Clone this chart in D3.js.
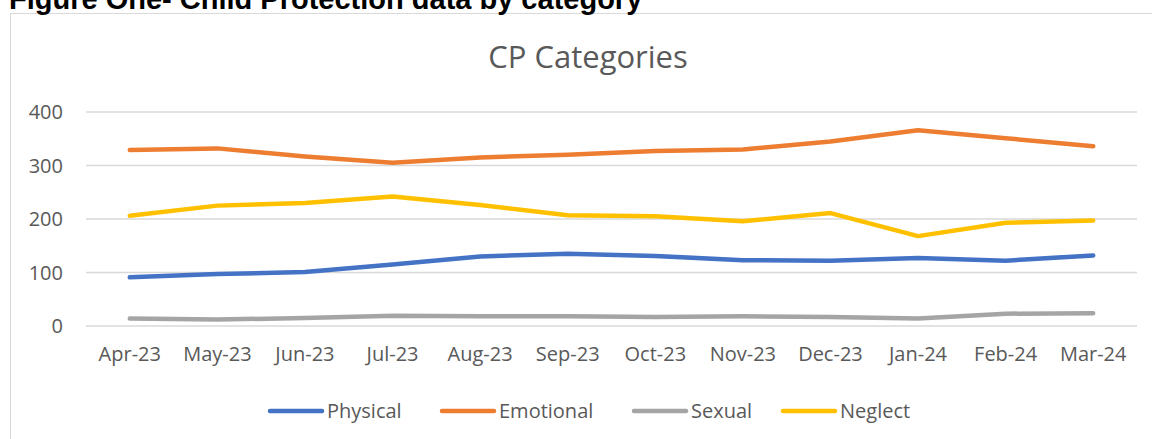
<!DOCTYPE html>
<html>
<head>
<meta charset="utf-8">
<script src="https://cdn.jsdelivr.net/npm/d3@7"></script>
<style>
  html, body { margin: 0; padding: 0; background: #fff; overflow: hidden; }
  svg { display: block; }
  .lbl { font-family: "Open Sans", Lato, sans-serif; fill: #595959; }
</style>
</head>
<body>
<div id="chart"></div>
<script>
// data
var months = ['Apr-23', 'May-23', 'Jun-23', 'Jul-23', 'Aug-23', 'Sep-23',
              'Oct-23', 'Nov-23', 'Dec-23', 'Jan-24', 'Feb-24', 'Mar-24'];
var physical  = [91, 97, 101, 115, 130, 135, 131, 123, 122, 127, 122, 132];
var emotional = [329, 332, 317, 305, 315, 320, 327, 330, 345, 366, 351, 336];
var sexual    = [14, 12, 15, 19, 18, 18, 17, 18, 17, 14, 23, 24];
var neglect   = [206, 225, 230, 242, 226, 207, 205, 196, 211, 168, 193, 197];
var yTicks = [0, 100, 200, 300, 400];

var seriesNames = ['Physical', 'Emotional', 'Sexual', 'Neglect'];
var seriesValues = [physical, emotional, sexual, neglect];
var seriesColors = ['#4472C4', '#ED7D31', '#A5A5A5', '#FFC000'];

var width = 1152, height = 439;
var svg = d3.select('#chart').append('svg')
  .attr('width', width)
  .attr('height', height);

// outer chart frame (runs off the right and bottom edges)
svg.append('rect')
  .attr('x', 10.5).attr('y', 13.5)
  .attr('width', 1200).attr('height', 500)
  .attr('fill', '#fff')
  .attr('stroke', '#d9d9d9');

// figure caption, cut off by the top edge in the original too
svg.append('text')
  .attr('x', 9).attr('y', 9)
  .attr('font-family', 'Arial, "Liberation Sans", sans-serif')
  .attr('font-weight', 'bold')
  .attr('font-size', 29)
  .attr('fill', '#000')
  .text('Figure One- Child Protection data by category');

svg.append('text')
  .attr('class', 'lbl')
  .attr('x', 588).attr('y', 68)
  .attr('text-anchor', 'middle')
  .attr('font-size', 31)
  .text('CP Categories');

var x = d3.scaleBand().domain(months).range([86, 1137]);
var y = d3.scaleLinear().domain([0, 400]).range([326, 112]);
var cx = function (m) { return x(m) + x.bandwidth() / 2; };

// gridlines
svg.append('g')
  .selectAll('line')
  .data(yTicks)
  .join('line')
  .attr('x1', 86).attr('x2', 1137)
  .attr('y1', function (d) { return y(d); })
  .attr('y2', function (d) { return y(d); })
  .attr('stroke', '#d9d9d9')
  .attr('stroke-width', 1.3);

// y labels
svg.append('g')
  .selectAll('text')
  .data(yTicks)
  .join('text')
  .attr('class', 'lbl')
  .attr('x', 63)
  .attr('y', function (d) { return y(d); })
  .attr('dy', '0.35em')
  .attr('text-anchor', 'end')
  .attr('font-size', 20)
  .text(function (d) { return d; });

// x labels
svg.append('g')
  .selectAll('text')
  .data(months)
  .join('text')
  .attr('class', 'lbl')
  .attr('x', cx)
  .attr('y', 361)
  .attr('text-anchor', 'middle')
  .attr('font-size', 20)
  .text(function (d) { return d; });

var line = d3.line()
  .x(function (d, i) { return cx(months[i]); })
  .y(function (d) { return y(d); });

svg.append('g')
  .selectAll('path')
  .data(seriesValues)
  .join('path')
  .attr('d', line)
  .attr('fill', 'none')
  .attr('stroke', function (d, i) { return seriesColors[i]; })
  .attr('stroke-width', 4.5)
  .attr('stroke-linecap', 'round')
  .attr('stroke-linejoin', 'round');

// legend
var legendX = [268, 440, 632, 781];
var lg = svg.append('g')
  .selectAll('g')
  .data(seriesNames)
  .join('g')
  .attr('transform', function (d, i) { return 'translate(' + legendX[i] + ',411)'; });

lg.append('line')
  .attr('x1', 2).attr('x2', 54)
  .attr('stroke', function (d, i) { return seriesColors[i]; })
  .attr('stroke-width', 4.5)
  .attr('stroke-linecap', 'round');

lg.append('text')
  .attr('class', 'lbl')
  .attr('x', 59)
  .attr('dy', '0.35em')
  .attr('font-size', 20)
  .text(function (d) { return d; });
</script>
</body>
</html>
